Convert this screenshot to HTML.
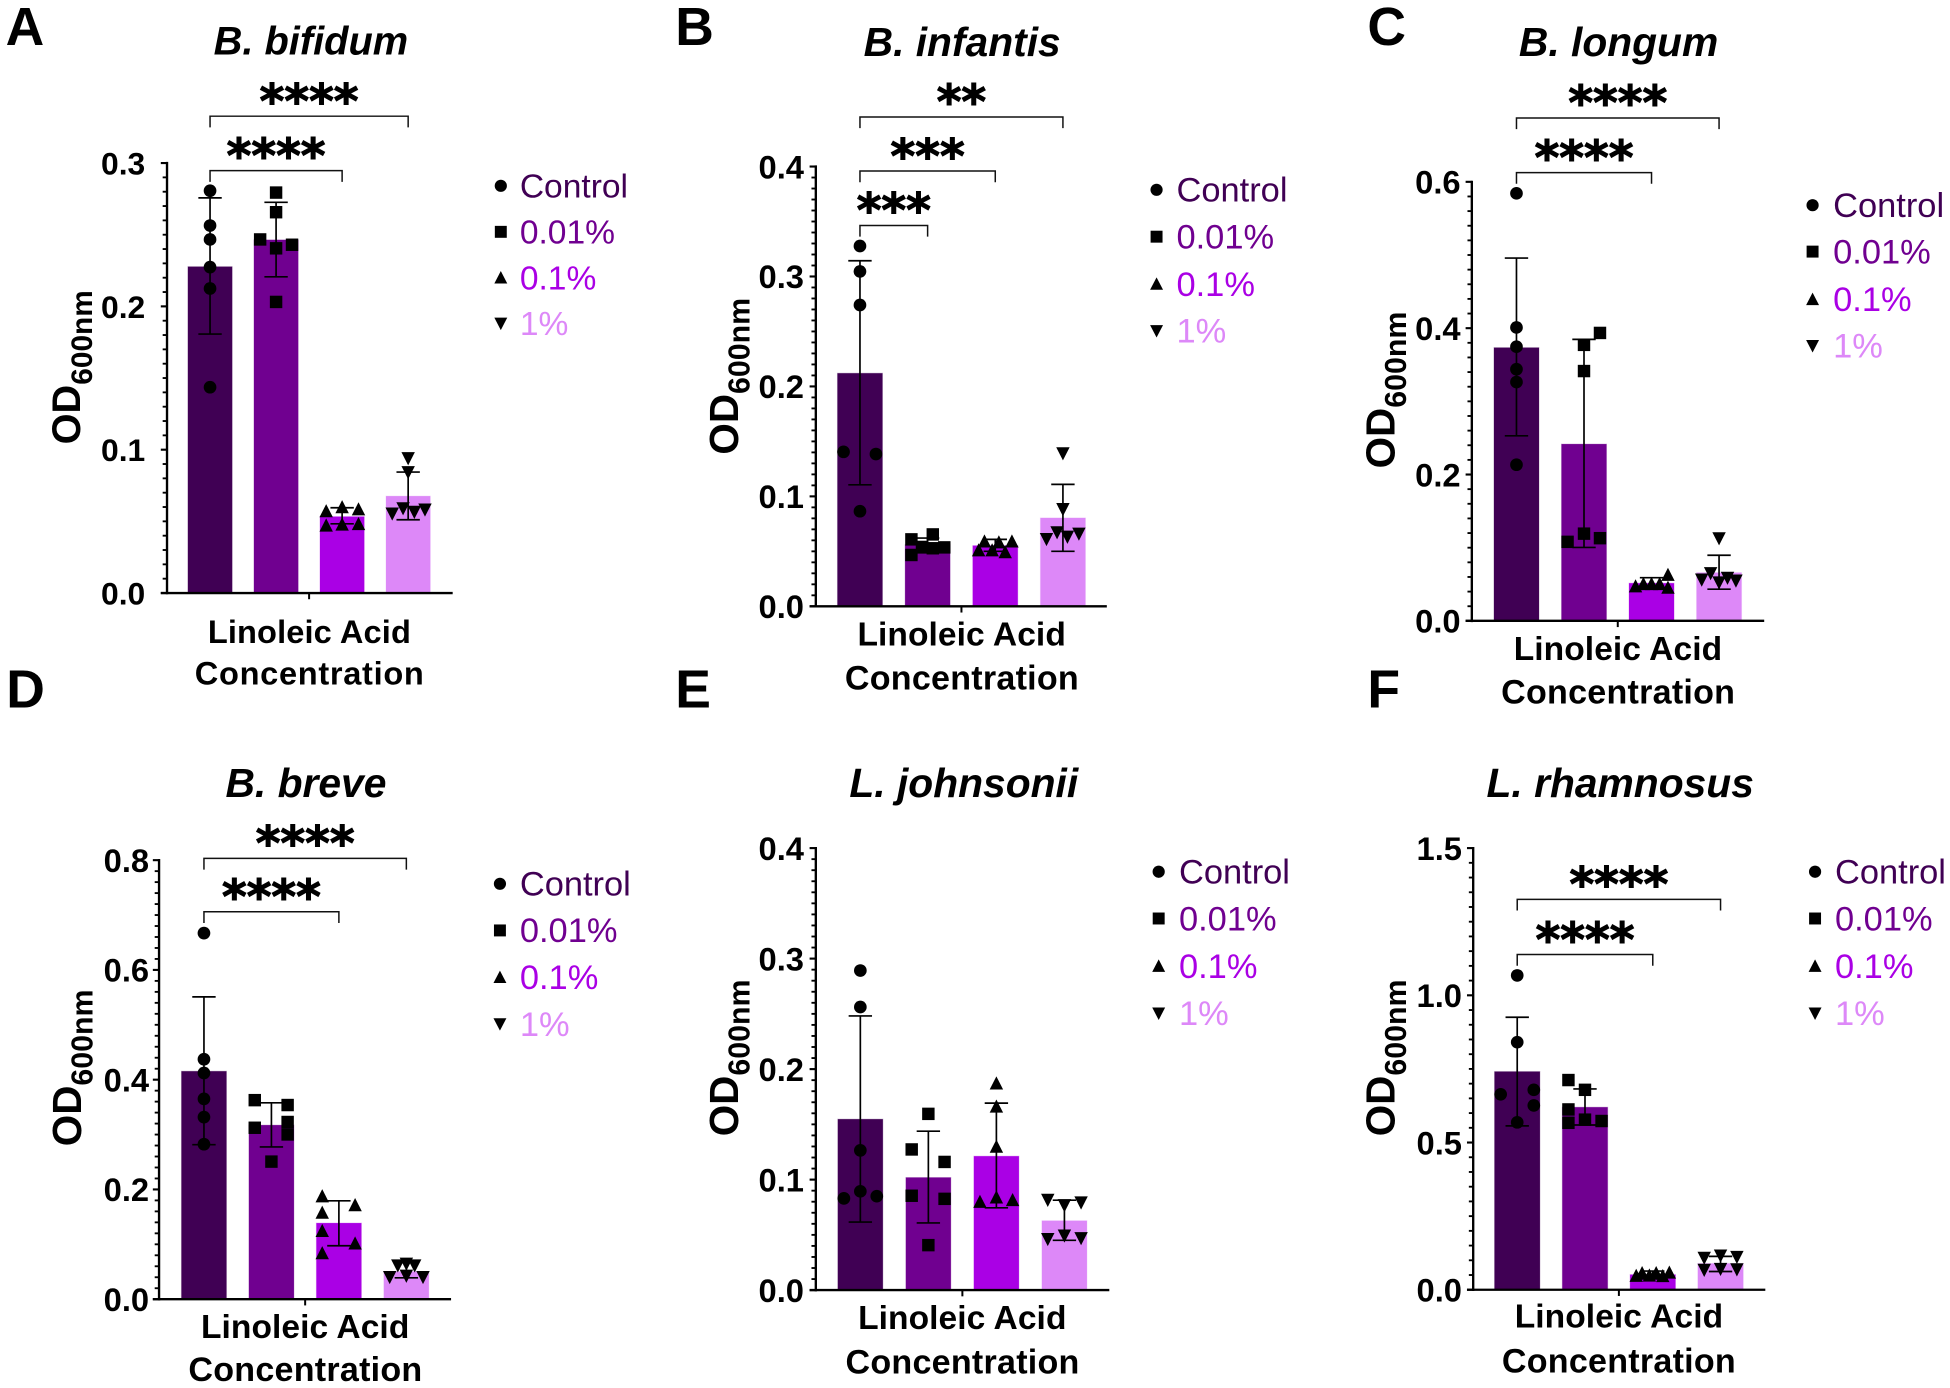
<!DOCTYPE html>
<html lang="en">
<head>
<meta charset="utf-8">
<title>Linoleic acid growth panels</title>
<style>
html,body{margin:0;padding:0;background:#fff;}
svg{display:block;font-family:"Liberation Sans",Arial,sans-serif;}
.letter{font-size:43px;font-weight:bold;fill:#000;}
.title{font-size:32px;font-weight:bold;font-style:italic;text-anchor:middle;fill:#000;}
.ytitle{font-size:32px;font-weight:bold;fill:#000;}
.ytitle tspan{font-size:24px;}
.xtitle{font-size:26.2px;letter-spacing:.1px;font-weight:bold;text-anchor:middle;fill:#000;}
.xtitle.l2{letter-spacing:.55px;}
.lg{font-size:27px;}
.big .title{font-size:32.8px;}
.big .ytitle{font-size:32.5px;}
.big .ytitle tspan{font-size:24.4px;}
.big .xtitle{font-size:27px;letter-spacing:.05px;}
.big .xtitle.l2{font-size:27.4px;letter-spacing:.2px;}
.big .lg{font-size:27.7px;}
.c0{fill:#400054;}.c1{fill:#700090;}.c2{fill:#aa00e5;}.c3{fill:#dd88f8;}
</style>
</head>
<body>
<svg id="figure" xmlns="http://www.w3.org/2000/svg" width="1950" height="1388" viewBox="0 0 1568 1116" preserveAspectRatio="none">
<rect width="1568" height="1116" fill="#fff"/>
<defs>
<g id="m-c"><circle r="4.9"/></g>
<g id="m-s"><rect x="-4.8" y="-4.8" width="9.6" height="9.6"/></g>
<g id="m-t"><polygon points="0,-5.4 5.2,4.6 -5.2,4.6"/></g>
<g id="m-d"><polygon points="0,5.4 5.2,-4.6 -5.2,-4.6"/></g>
</defs>

<g id="panel-a">
<text class="letter" x="4.5" y="36">A</text>
<text class="title" x="250" y="44">B. bifidum</text>
<text class="ytitle" transform="translate(64.3,357.3) rotate(-90)">OD<tspan dy="9.5">600nm</tspan></text>
<text class="xtitle" x="248.8" y="517">Linoleic Acid</text>
<text class="xtitle l2" x="249" y="550.5">Concentration</text>
<g>
<use href="#m-c" x="402.7" y="149.4"/><text class="lg c0" x="418" y="158.9">Control</text>
<use href="#m-s" x="402.7" y="186.4"/><text class="lg c1" x="418" y="195.9">0.01%</text>
<use href="#m-t" x="402.7" y="223.3"/><text class="lg c2" x="418" y="232.8">0.1%</text>
<use href="#m-d" x="402.7" y="260"/><text class="lg c3" x="418" y="269.5">1%</text>
</g>
</g>

<g id="panel-b" class="big">
<text class="letter" x="543" y="36">B</text>
<text class="title" x="773.7" y="45">B. infantis</text>
<text class="ytitle" transform="translate(593.3,365.5) rotate(-90)">OD<tspan dy="9.5">600nm</tspan></text>
<text class="xtitle" x="773.3" y="519">Linoleic Acid</text>
<text class="xtitle l2" x="773.5" y="554.5">Concentration</text>
<g>
<use href="#m-c" x="930" y="152.6"/><text class="lg c0" x="946" y="162.1">Control</text>
<use href="#m-s" x="930" y="190.3"/><text class="lg c1" x="946" y="199.8">0.01%</text>
<use href="#m-t" x="930" y="228.4"/><text class="lg c2" x="946" y="237.9">0.1%</text>
<use href="#m-d" x="930" y="266"/><text class="lg c3" x="946" y="275.5">1%</text>
</g>
</g>

<g id="panel-c" class="big">
<text class="letter" x="1099.5" y="36">C</text>
<text class="title" x="1301.5" y="45">B. longum</text>
<text class="ytitle" transform="translate(1121.2,376.6) rotate(-90)">OD<tspan dy="9.5">600nm</tspan></text>
<text class="xtitle" x="1301" y="530.5">Linoleic Acid</text>
<text class="xtitle l2" x="1301.2" y="565.5">Concentration</text>
<g>
<use href="#m-c" x="1457.5" y="165"/><text class="lg c0" x="1474" y="174.5">Control</text>
<use href="#m-s" x="1457.5" y="202.3"/><text class="lg c1" x="1474" y="211.8">0.01%</text>
<use href="#m-t" x="1457.5" y="240.7"/><text class="lg c2" x="1474" y="250.2">0.1%</text>
<use href="#m-d" x="1457.5" y="278"/><text class="lg c3" x="1474" y="287.5">1%</text>
</g>
</g>

<g id="panel-d" class="big">
<text class="letter" x="5" y="569">D</text>
<text class="title" x="246" y="641">B. breve</text>
<text class="ytitle" transform="translate(65,921.6) rotate(-90)">OD<tspan dy="9.5">600nm</tspan></text>
<text class="xtitle" x="245.4" y="1076">Linoleic Acid</text>
<text class="xtitle l2" x="245.6" y="1110.5">Concentration</text>
<g>
<use href="#m-c" x="402" y="710.6"/><text class="lg c0" x="418" y="720.1">Control</text>
<use href="#m-s" x="402" y="748.1"/><text class="lg c1" x="418" y="757.6">0.01%</text>
<use href="#m-t" x="402" y="785.8"/><text class="lg c2" x="418" y="795.3">0.1%</text>
<use href="#m-d" x="402" y="823.3"/><text class="lg c3" x="418" y="832.8">1%</text>
</g>
</g>

<g id="panel-e" class="big">
<text class="letter" x="543" y="569">E</text>
<text class="title" x="775" y="641">L. johnsonii</text>
<text class="ytitle" transform="translate(593.3,913.6) rotate(-90)">OD<tspan dy="9.5">600nm</tspan></text>
<text class="xtitle" x="773.8" y="1068.6">Linoleic Acid</text>
<text class="xtitle l2" x="774" y="1104.4">Concentration</text>
<g>
<use href="#m-c" x="931.7" y="700.9"/><text class="lg c0" x="948" y="710.4">Control</text>
<use href="#m-s" x="931.7" y="738.5"/><text class="lg c1" x="948" y="748">0.01%</text>
<use href="#m-t" x="931.7" y="776.8"/><text class="lg c2" x="948" y="786.3">0.1%</text>
<use href="#m-d" x="931.7" y="814.7"/><text class="lg c3" x="948" y="824.2">1%</text>
</g>
</g>

<g id="panel-f" class="big">
<text class="letter" x="1099.5" y="569">F</text>
<text class="title" x="1302.8" y="641">L. rhamnosus</text>
<text class="ytitle" transform="translate(1121.2,913.6) rotate(-90)">OD<tspan dy="9.5">600nm</tspan></text>
<text class="xtitle" x="1301.8" y="1067.5">Linoleic Acid</text>
<text class="xtitle l2" x="1301.8" y="1103.4">Concentration</text>
<g>
<use href="#m-c" x="1459.5" y="700.9"/><text class="lg c0" x="1475.5" y="710.4">Control</text>
<use href="#m-s" x="1459.5" y="738.5"/><text class="lg c1" x="1475.5" y="748">0.01%</text>
<use href="#m-t" x="1459.5" y="776.8"/><text class="lg c2" x="1475.5" y="786.3">0.1%</text>
<use href="#m-d" x="1459.5" y="814.7"/><text class="lg c3" x="1475.5" y="824.2">1%</text>
</g>
</g>
</svg>

<script>
// ---------- chart data ----------
const categories = ['control', '0-01', '0-1', '1'];

const bifidumTicks = ['0.0', '0.1', '0.2', '0.3'];
const bifidumMeans = [0.2277, 0.2464, 0.0533, 0.0676];
const bifidumUpper = [0.2757, 0.2726, 0.0595, 0.0844];
const bifidumLower = [0.1807, 0.2206, 0.0483, 0.0511];
const bifidumPoints = [
  [0.2807, 0.2564, 0.2467, 0.2274, 0.2125, 0.1436],
  [0.2794, 0.2657, 0.2467, 0.243, 0.2405, 0.2031],
  [0.057, 0.0598, 0.0583, 0.047, 0.0477, 0.048],
  [0.0941, 0.0844, 0.0555, 0.0592, 0.0567, 0.0583]
];
const bifidumJitter = [
  [0, 0, 0, 0, 0, 0],
  [0, 0, -0.72, 0.72, 0, 0],
  [-0.72, 0, 0.74, -0.72, 0, 0.74],
  [0, 0, -0.72, -0.23, 0.28, 0.76]
];
const bifidumBracketEnds = [2, 3];
const bifidumBracketLevels = [0.2947, 0.3327];
const bifidumBracketStars = ['****', '****'];

const infantisTicks = ['0.0', '0.1', '0.2', '0.3', '0.4'];
const infantisMeans = [0.212, 0.056, 0.0552, 0.0804];
const infantisUpper = [0.3143, 0.0621, 0.0609, 0.1109];
const infantisLower = [0.1105, 0.0487, 0.05, 0.05];
const infantisPoints = [
  [0.3277, 0.3046, 0.2741, 0.1405, 0.1385, 0.0865],
  [0.0609, 0.0654, 0.054, 0.0528, 0.0536, 0.0467],
  [0.0589, 0.0581, 0.0589, 0.0508, 0.0508, 0.0491],
  [0.1393, 0.0885, 0.0613, 0.0674, 0.0634, 0.0662]
];
const infantisJitter = [
  [0, 0, 0, -0.73, 0.71, 0],
  [-0.72, 0.23, -0.25, 0.23, 0.74, -0.72],
  [-0.48, 0.16, 0.74, -0.74, -0.14, 0.44],
  [0, 0, -0.73, -0.26, 0.2, 0.71]
];
const infantisBracketEnds = [1, 2, 3];
const infantisBracketLevels = [0.3464, 0.3959, 0.4451];
const infantisBracketStars = ['***', '***', '**'];

const longumTicks = ['0.0', '0.2', '0.4', '0.6'];
const longumMeans = [0.3734, 0.2416, 0.0515, 0.0659];
const longumUpper = [0.4958, 0.3847, 0.059, 0.0897];
const longumLower = [0.2529, 0.1004, 0.044, 0.0433];
const longumPoints = [
  [0.5843, 0.401, 0.3747, 0.3439, 0.3264, 0.2134],
  [0.3935, 0.3772, 0.3414, 0.1192, 0.113, 0.108],
  [0.0628, 0.0471, 0.0502, 0.0502, 0.0502, 0.0452],
  [0.113, 0.0653, 0.0565, 0.0527, 0.059, 0.0552]
];
const longumJitter = [
  [0, 0, 0, 0, 0, 0],
  [0.71, 0, 0, 0, 0.71, -0.73],
  [0.73, -0.71, -0.36, 0, 0.36, 0.73],
  [0, -0.375, -0.77, 0, 0.375, 0.75]
];
const longumBracketEnds = [2, 3];
const longumBracketLevels = [0.6126, 0.6873];
const longumBracketStars = ['****', '****'];

const breveTicks = ['0.0', '0.2', '0.4', '0.6', '0.8'];
const breveMeans = [0.4154, 0.3172, 0.1387, 0.0503];
const breveUpper = [0.5509, 0.3578, 0.1793, 0.0682];
const breveLower = [0.2815, 0.2775, 0.0974, 0.039];
const brevePoints = [
  [0.667, 0.4373, 0.4122, 0.3651, 0.3318, 0.2824],
  [0.3627, 0.3538, 0.3229, 0.3124, 0.3002, 0.2507],
  [0.1874, 0.1712, 0.1574, 0.1241, 0.1014, 0.0836],
  [0.0617, 0.0649, 0.0617, 0.0406, 0.043, 0.0406]
];
const breveJitter = [
  [0, 0, 0, 0, 0, 0],
  [-0.74, 0.72, 0.72, -0.74, 0.72, 0],
  [-0.74, 0.72, -0.74, -0.74, 0.72, -0.74],
  [-0.38, 0, 0.37, -0.74, 0, 0.74]
];
const breveBracketEnds = [2, 3];
const breveBracketLevels = [0.7059, 0.8032];
const breveBracketStars = ['****', '****'];

const johnsoniiTicks = ['0.0', '0.1', '0.2', '0.3', '0.4'];
const johnsoniiMeans = [0.1547, 0.1019, 0.1212, 0.0628];
const johnsoniiUpper = [0.2481, 0.1438, 0.1692, 0.0814];
const johnsoniiLower = [0.0616, 0.0608, 0.0745, 0.0451];
const johnsoniiPoints = [
  [0.2892, 0.2562, 0.1265, 0.0894, 0.083, 0.085],
  [0.1595, 0.1273, 0.116, 0.0854, 0.0826, 0.0407],
  [0.1869, 0.166, 0.1297, 0.0838, 0.0798, 0.0814],
  [0.0818, 0.0769, 0.0794, 0.0463, 0.0495, 0.0471]
];
const johnsoniiJitter = [
  [0, 0, 0, 0, -0.73, 0.73],
  [0, -0.74, 0.72, -0.74, 0.72, 0],
  [0, 0, 0, 0, -0.73, 0.72],
  [-0.74, 0, 0.74, -0.74, 0, 0.74]
];
const johnsoniiBracketEnds = [];
const johnsoniiBracketLevels = [];
const johnsoniiBracketStars = [];

const rhamnosusTicks = ['0.0', '0.5', '1.0', '1.5'];
const rhamnosusMeans = [0.741, 0.62, 0.0514, 0.0892];
const rhamnosusUpper = [0.9255, 0.682, 0.0635, 0.1134];
const rhamnosusLower = [0.5565, 0.5595, 0.037, 0.062];
const rhamnosusPoints = [
  [1.0676, 0.8408, 0.679, 0.6638, 0.626, 0.5686],
  [0.7122, 0.679, 0.6124, 0.5777, 0.5731, 0.567],
  [0.047, 0.056, 0.048, 0.056, 0.046, 0.058],
  [0.1089, 0.1164, 0.1119, 0.068, 0.0711, 0.0696]
];
const rhamnosusJitter = [
  [0, 0, 0.73, -0.73, 0.73, 0],
  [-0.73, 0, -0.73, 0, 0.73, -0.73],
  [-0.73, -0.47, -0.15, 0.15, 0.44, 0.73],
  [-0.72, 0, 0.72, -0.72, 0, 0.72]
];
const rhamnosusBracketEnds = [2, 3];
const rhamnosusBracketLevels = [1.1385, 1.326];
const rhamnosusBracketStars = ['****', '****'];

// ---------- layout (separate from data) ----------
const barColors = ['#400054', '#700090', '#aa00e5', '#dd88f8'];
const markerKinds = ['circle', 'square', 'up', 'down'];
const NS = 'http://www.w3.org/2000/svg';

function svgEl(tag, parent) {
  const el = document.createElementNS(NS, tag);
  parent.appendChild(el);
  return el;
}

function line(parent, x1, y1, x2, y2, w, color) {
  const el = svgEl('line', parent);
  el.setAttribute('x1', x1);
  el.setAttribute('y1', y1);
  el.setAttribute('x2', x2);
  el.setAttribute('y2', y2);
  el.setAttribute('stroke', color);
  el.setAttribute('stroke-width', w);
  return el;
}

function drawMarker(parent, kind, cx, cy) {
  let el;
  if (kind === 'circle') {
    el = svgEl('circle', parent);
    el.setAttribute('cx', cx);
    el.setAttribute('cy', cy);
    el.setAttribute('r', 5.1);
  } else if (kind === 'square') {
    el = svgEl('rect', parent);
    el.setAttribute('x', cx - 5);
    el.setAttribute('y', cy - 5);
    el.setAttribute('width', 10);
    el.setAttribute('height', 10);
  } else {
    const s = kind === 'up' ? 1 : -1;
    el = svgEl('polygon', parent);
    el.setAttribute('points', cx + ',' + (cy - 5.8 * s) + ' ' + (cx + 5.4) + ',' + (cy + 4.8 * s) + ' ' + (cx - 5.4) + ',' + (cy + 4.8 * s));
  }
  el.setAttribute('fill', '#000');
  return el;
}

function drawPanel(cfg) {
  const root = document.getElementById(cfg.id);
  const g = svgEl('g', root);
  
  

  const tickValues = cfg.ticks.map(Number);
  const yMax = tickValues[tickValues.length - 1];
  const yScale = v => cfg.yBottom - (v / yMax) * (cfg.yBottom - cfg.yTop);
  const xScale = i => cfg.firstBar + i * cfg.pitch;
  const half = cfg.barWidth / 2;

  // bars
  cfg.means.forEach((m, i) => {
    const bar = svgEl('rect', g);
    bar.setAttribute('x', xScale(i) - half);
    bar.setAttribute('y', yScale(m));
    bar.setAttribute('width', cfg.barWidth);
    bar.setAttribute('height', yScale(0) - yScale(m));
    bar.setAttribute('fill', barColors[i]);
    bar.setAttribute('stroke', barColors[i]);
    bar.setAttribute('stroke-opacity', 0.25);
    bar.setAttribute('stroke-width', 0.8);
    
    
  });

  // error bars
  cfg.means.forEach((m, i) => {
    const eg = svgEl('g', g);
    
    
    const cx = xScale(i);
    const hi = yScale(cfg.upper[i]);
    const lo = yScale(cfg.lower[i]);
    line(eg, cx, hi, cx, lo, 1.35, '#000');
    line(eg, cx - 9.4, hi, cx + 9.4, hi, 1.35, '#000');
    line(eg, cx - 9.4, lo, cx + 9.4, lo, 1.35, '#000');
  });

  // points
  cfg.points.forEach((vals, i) => {
    vals.forEach((v, j) => {
      const pt = drawMarker(g, markerKinds[i], xScale(i) + cfg.jitter[i][j] * half, yScale(v));
      
      
    });
  });

  // axes
  const yAxis = line(g, cfg.axisX, cfg.yTop - 0.9, cfg.axisX, cfg.yBottom + 1, 1.9, '#000');
  
  
  const xAxis = line(g, cfg.axisX - 5, cfg.yBottom, cfg.xEnd, cfg.yBottom, 1.9, '#000');
  
  
  const xTick = line(g, xScale(1.5), cfg.yBottom, xScale(1.5), cfg.yBottom + 5, 1.6, '#000');
  
  

  tickValues.forEach((v, i) => {
    const tick = line(g, cfg.axisX - 5, yScale(v), cfg.axisX, yScale(v), 1.7, '#000');
    
    
    const label = svgEl('text', g);
    label.setAttribute('x', cfg.axisX - cfg.labelGap);
    label.setAttribute('y', yScale(v) + cfg.labelFont * 0.36);
    label.setAttribute('text-anchor', 'end');
    label.setAttribute('font-size', cfg.labelFont);
    label.setAttribute('font-weight', 'bold');
    label.textContent = cfg.ticks[i];
    
    
    if (i < tickValues.length - 1) {
      const step = tickValues[i + 1] - v;
      for (let k = 1; k < 10; k++) {
        const minor = line(g, cfg.axisX - 3.5, yScale(v + step * k / 10), cfg.axisX, yScale(v + step * k / 10), 1.5, '#000');
        
        
      }
    }
  });

  // significance brackets
  cfg.bracketEnds.forEach((end, i) => {
    const bg = svgEl('g', g);
    
    
    const y = yScale(cfg.bracketLevels[i]);
    const x1 = xScale(0);
    const x2 = xScale(end);
    const path = svgEl('path', bg);
    path.setAttribute('d', 'M' + x1 + ' ' + (y + 9) + 'V' + y + 'H' + x2 + 'V' + (y + 9));
    path.setAttribute('fill', 'none');
    path.setAttribute('stroke', '#111');
    path.setAttribute('stroke-width', 1.2);
    const stars = svgEl('text', bg);
    stars.setAttribute('x', (x1 + x2) / 2);
    stars.setAttribute('y', y + 1);
    stars.setAttribute('text-anchor', 'middle');
    stars.setAttribute('font-size', 38);
    stars.setAttribute('font-weight', 'bold');
    stars.setAttribute('stroke', '#000');
    stars.setAttribute('stroke-width', 0.9);
    stars.setAttribute('font-family', '"DejaVu Sans", "Liberation Sans", sans-serif');
    stars.textContent = cfg.bracketStars[i];
    
    
  });
}

drawPanel({ id: 'panel-a', ticks: bifidumTicks, means: bifidumMeans, upper: bifidumUpper, lower: bifidumLower, points: bifidumPoints, jitter: bifidumJitter, bracketEnds: bifidumBracketEnds, bracketLevels: bifidumBracketLevels, bracketStars: bifidumBracketStars, axisX: 134.3, yTop: 131.1, yBottom: 476.8, firstBar: 168.9, pitch: 53.1, barWidth: 35.6, xEnd: 364, labelGap: 17.5, labelFont: 25.6 });
drawPanel({ id: 'panel-b', ticks: infantisTicks, means: infantisMeans, upper: infantisUpper, lower: infantisLower, points: infantisPoints, jitter: infantisJitter, bracketEnds: infantisBracketEnds, bracketLevels: infantisBracketLevels, bracketStars: infantisBracketStars, axisX: 656, yTop: 133.9, yBottom: 487.5, firstBar: 691.5, pitch: 54.4, barWidth: 36.2, xEnd: 890, labelGap: 9.5, labelFont: 26.3 });
drawPanel({ id: 'panel-c', ticks: longumTicks, means: longumMeans, upper: longumUpper, lower: longumLower, points: longumPoints, jitter: longumJitter, bracketEnds: longumBracketEnds, bracketLevels: longumBracketLevels, bracketStars: longumBracketStars, axisX: 1183.5, yTop: 146.2, yBottom: 499.2, firstBar: 1219.4, pitch: 54.3, barWidth: 36.2, xEnd: 1418.6, labelGap: 9, labelFont: 26.3 });
drawPanel({ id: 'panel-d', ticks: breveTicks, means: breveMeans, upper: breveUpper, lower: breveLower, points: brevePoints, jitter: breveJitter, bracketEnds: breveBracketEnds, bracketLevels: breveBracketLevels, bracketStars: breveBracketStars, axisX: 127.9, yTop: 691.6, yBottom: 1044.6, firstBar: 164, pitch: 54.25, barWidth: 36.2, xEnd: 362.7, labelGap: 8, labelFont: 26.3 });
drawPanel({ id: 'panel-e', ticks: johnsoniiTicks, means: johnsoniiMeans, upper: johnsoniiUpper, lower: johnsoniiLower, points: johnsoniiPoints, jitter: johnsoniiJitter, bracketEnds: johnsoniiBracketEnds, bracketLevels: johnsoniiBracketLevels, bracketStars: johnsoniiBracketStars, axisX: 656, yTop: 681.9, yBottom: 1037.3, firstBar: 691.8, pitch: 54.7, barWidth: 36.2, xEnd: 892, labelGap: 9.5, labelFont: 26.3 });
drawPanel({ id: 'panel-f', ticks: rhamnosusTicks, means: rhamnosusMeans, upper: rhamnosusUpper, lower: rhamnosusLower, points: rhamnosusPoints, jitter: rhamnosusJitter, bracketEnds: rhamnosusBracketEnds, bracketLevels: rhamnosusBracketLevels, bracketStars: rhamnosusBracketStars, axisX: 1184.6, yTop: 681.9, yBottom: 1037, firstBar: 1220, pitch: 54.5, barWidth: 36.5, xEnd: 1419.5, labelGap: 9, labelFont: 26.3 });
</script>
</body>
</html>
